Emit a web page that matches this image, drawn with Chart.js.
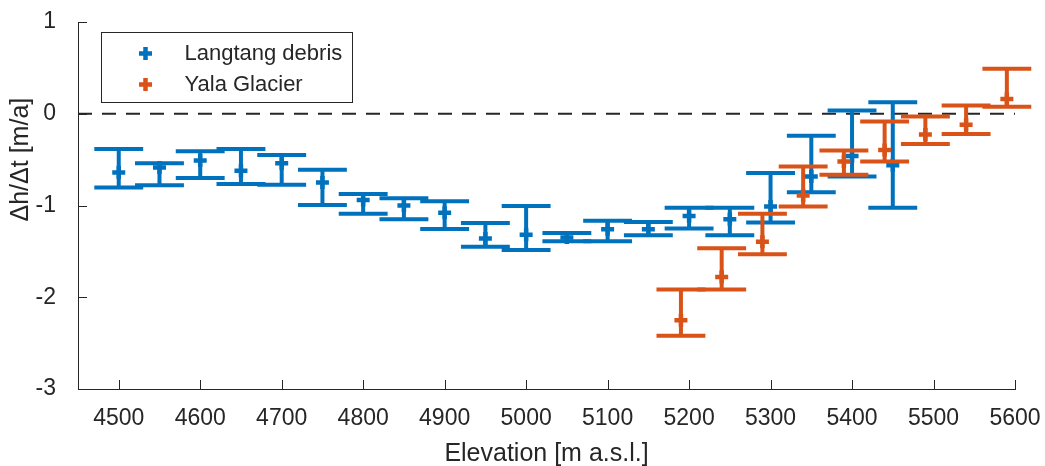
<!DOCTYPE html>
<html>
<head>
<meta charset="utf-8">
<script src="https://cdn.jsdelivr.net/npm/chart.js@4"></script>
<style>
  html, body { margin: 0; background: #fff; }
</style>
</head>
<body>
<canvas id="chart" width="1045" height="466"></canvas>
<script>
const xTicks = [4500, 4600, 4700, 4800, 4900, 5000, 5100, 5200, 5300, 5400, 5500, 5600];
const yTicks = [-3, -2, -1, 0, 1];

// Langtang debris: elevation bins, central value, lower and upper error bar ends
const langtangElev = [4500, 4550, 4600, 4650, 4700, 4750, 4800, 4850, 4900, 4950,
                      5000, 5050, 5100, 5150, 5200, 5250, 5300, 5350, 5400, 5450];
const langtangMid  = [-0.64, -0.585, -0.51, -0.62, -0.54, -0.75, -0.94, -1.0, -1.08, -1.36,
                      -1.32, -1.35, -1.26, -1.26, -1.115, -1.15, -1.01, -0.685, -0.46, -0.56];
const langtangLow  = [-0.805, -0.78, -0.70, -0.765, -0.775, -0.995, -1.09, -1.15, -1.255, -1.45,
                      -1.485, -1.39, -1.39, -1.325, -1.25, -1.325, -1.185, -0.855, -0.685, -1.025];
const langtangHigh = [-0.385, -0.54, -0.41, -0.385, -0.45, -0.61, -0.875, -0.92, -0.955, -1.19,
                      -1.005, -1.30, -1.165, -1.18, -1.025, -1.025, -0.645, -0.24, 0.035, 0.125];

// Yala Glacier
const yalaElev = [5190, 5240, 5290, 5340, 5390, 5440, 5490, 5540, 5590];
const yalaMid  = [-2.25, -1.78, -1.395, -0.89, -0.52, -0.395, -0.225, -0.12, 0.16];
const yalaLow  = [-2.42, -1.915, -1.53, -1.01, -0.665, -0.52, -0.33, -0.22, 0.075];
const yalaHigh = [-1.915, -1.465, -1.09, -0.575, -0.40, -0.085, -0.03, 0.09, 0.49];

const yTitle = 'Δh/Δt [m/a]';

const BLUE = '#0072BD';
const ORANGE = '#D95319';
const AXIS = '#262626';
const FONT = "'Liberation Sans', Arial, Helvetica, sans-serif";
const CAP = 30; // half width of error bar caps, in metres

function points(xs, ys) {
    return xs.map((x, i) => ({ x: x, y: ys[i] }));
}

// error bars drawn under each dataset's markers
const errorBars = {
    id: 'errorBars',
    beforeDatasetDraw(chart, args) {
        const ds = chart.data.datasets[args.index];
        if (!ds.low) return;
        const xs = chart.scales.x, ys = chart.scales.y, ctx = chart.ctx;
        ctx.save();
        ctx.strokeStyle = ds.borderColor;
        ctx.lineWidth = 4;
        ds.data.forEach((p, i) => {
            const px = xs.getPixelForValue(p.x);
            const l = xs.getPixelForValue(p.x - CAP);
            const r = xs.getPixelForValue(p.x + CAP);
            const yl = ys.getPixelForValue(ds.low[i]);
            const yh = ys.getPixelForValue(ds.high[i]);
            ctx.beginPath();
            ctx.moveTo(px, yl); ctx.lineTo(px, yh);
            ctx.moveTo(l, yl); ctx.lineTo(r, yl);
            ctx.moveTo(l, yh); ctx.lineTo(r, yh);
            ctx.stroke();
        });
        ctx.restore();
    }
};

// inward ticks, the dashed zero line and the y axis label
const axesExtras = {
    id: 'axesExtras',
    beforeDatasetsDraw(chart) {
        const { ctx, chartArea: a, scales: { x, y } } = chart;
        ctx.save();
        ctx.strokeStyle = AXIS;
        ctx.lineWidth = 1;
        ctx.beginPath();
        x.ticks.forEach(t => {
            const px = Math.round(x.getPixelForValue(t.value)) + 0.5;
            ctx.moveTo(px, a.bottom); ctx.lineTo(px, a.bottom - 9);
        });
        y.ticks.forEach(t => {
            const py = Math.round(y.getPixelForValue(t.value)) + 0.5;
            ctx.moveTo(a.left, py); ctx.lineTo(a.left + 9, py);
        });
        ctx.stroke();

        const y0 = y.getPixelForValue(0);
        ctx.setLineDash([14, 10]);
        ctx.lineWidth = 1.8;
        ctx.beginPath();
        ctx.moveTo(a.left, y0); ctx.lineTo(a.right, y0);
        ctx.stroke();
        ctx.setLineDash([]);

        // label sits a bit above the axis centre, as in the original figure
        ctx.translate(21, y.getPixelForValue(-0.5));
        ctx.rotate(-Math.PI / 2);
        ctx.fillStyle = AXIS;
        ctx.font = '25px ' + FONT;
        ctx.textAlign = 'center';
        ctx.textBaseline = 'middle';
        ctx.fillText(yTitle, 0, 0);
        ctx.restore();
    }
};

// boxed legend in the upper left of the axes
const boxLegend = {
    id: 'boxLegend',
    afterDraw(chart) {
        const { ctx, chartArea: a } = chart;
        const left = a.left + 23.5, top = a.top + 10.5, w = 251, h = 70;
        ctx.save();
        ctx.fillStyle = '#fff';
        ctx.fillRect(left, top, w, h);
        ctx.strokeStyle = AXIS;
        ctx.lineWidth = 1;
        ctx.strokeRect(left, top, w, h);
        const items = chart.data.datasets.filter(d => d.low);
        items.forEach((d, i) => {
            const cy = top + 21 + i * 31;
            const cx = left + 44;
            ctx.strokeStyle = d.borderColor;
            ctx.lineWidth = 4.5;
            ctx.beginPath();
            ctx.moveTo(cx - 6.5, cy); ctx.lineTo(cx + 6.5, cy);
            ctx.moveTo(cx, cy - 6.5); ctx.lineTo(cx, cy + 6.5);
            ctx.stroke();
            ctx.fillStyle = AXIS;
            ctx.font = '22px ' + FONT;
            ctx.textBaseline = 'middle';
            ctx.fillText(d.label, left + 83, cy);
        });
        ctx.restore();
    }
};

new Chart(document.getElementById('chart'), {
    type: 'scatter',
    data: {
        datasets: [
            {
                label: 'Langtang debris',
                data: points(langtangElev, langtangMid),
                low: langtangLow,
                high: langtangHigh,
                borderColor: BLUE,
                backgroundColor: BLUE,
                pointStyle: 'cross',
                pointRadius: 6.5,
                borderWidth: 4.5,
                order: 1
            },
            {
                label: 'Yala Glacier',
                data: points(yalaElev, yalaMid),
                low: yalaLow,
                high: yalaHigh,
                borderColor: ORANGE,
                backgroundColor: ORANGE,
                pointStyle: 'cross',
                pointRadius: 6.5,
                borderWidth: 4.5,
                order: 0
            }
        ]
    },
    options: {
        responsive: false,
        animation: false,
        devicePixelRatio: 1,
        events: [],
        layout: { padding: { top: 22, right: 30, left: 0, bottom: 0 } },
        plugins: {
            legend: { display: false },
            tooltip: { enabled: false }
        },
        scales: {
            x: {
                type: 'linear',
                min: 4450,
                max: 5600,
                afterBuildTicks: s => { s.ticks = xTicks.map(v => ({ value: v })); },
                afterFit: s => { s.height = 77; s.paddingLeft = 0; s.paddingRight = 0; },
                grid: { display: false },
                border: { display: true, color: AXIS, width: 1 },
                ticks: {
                    color: AXIS, padding: 8, maxRotation: 0, autoSkip: false,
                    font: { family: FONT, size: 23 },
                    callback: v => String(v)
                },
                title: {
                    display: true, text: 'Elevation [m a.s.l.]', color: AXIS,
                    font: { family: FONT, size: 25 }, padding: { top: 0, bottom: -3 }
                }
            },
            y: {
                min: -3,
                max: 1,
                afterBuildTicks: s => { s.ticks = yTicks.map(v => ({ value: v })); },
                afterFit: s => { s.width = 78; s.paddingTop = 0; s.paddingBottom = 0; },
                grid: { display: false },
                border: { display: true, color: AXIS, width: 1 },
                ticks: {
                    color: AXIS, padding: 14,
                    font: { family: FONT, size: 23 },
                    callback: v => String(v)
                },
                title: { display: false }
            }
        }
    },
    plugins: [errorBars, axesExtras, boxLegend]
});
</script>
</body>
</html>
